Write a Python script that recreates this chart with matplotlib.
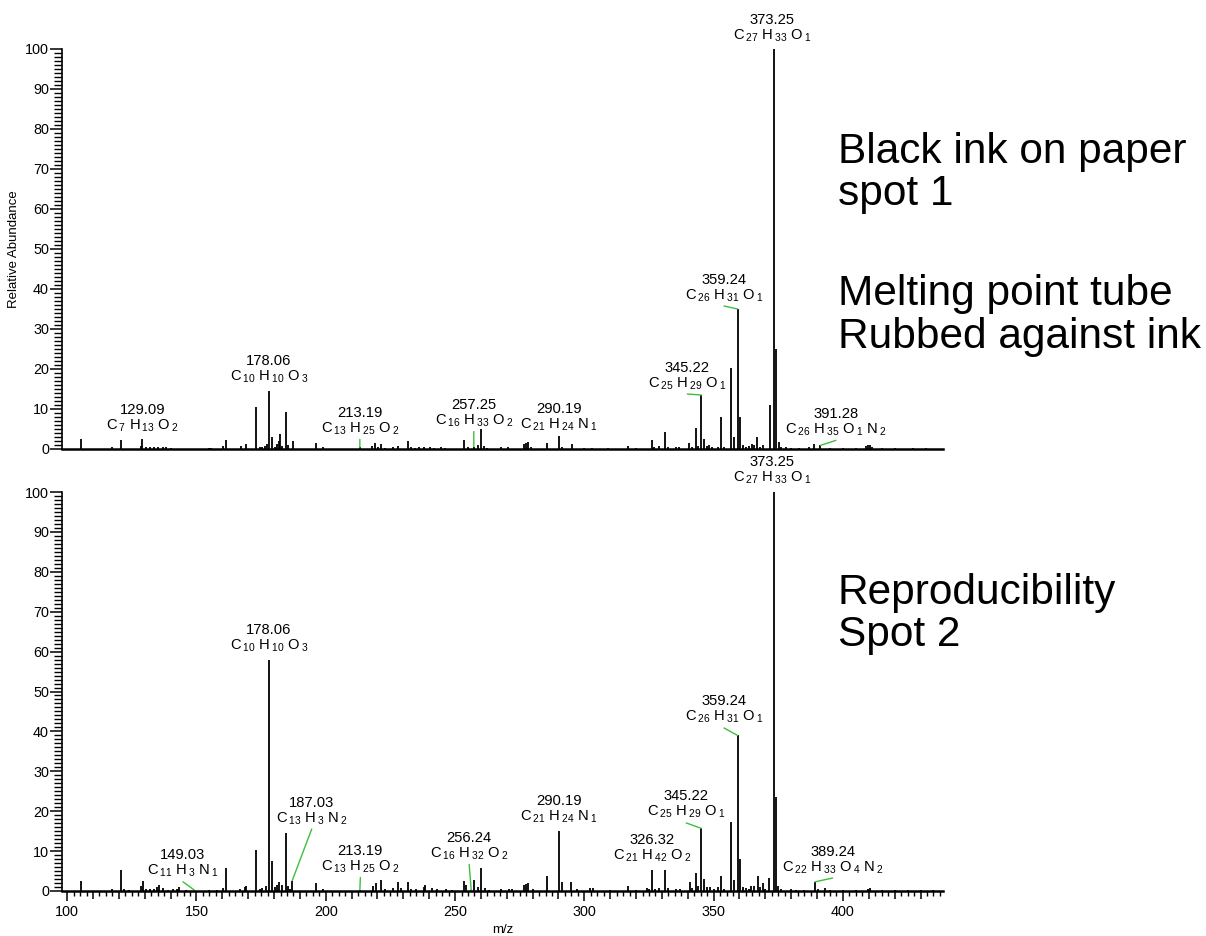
import matplotlib
matplotlib.use("Agg")
import matplotlib.pyplot as plt
from matplotlib.ticker import MultipleLocator, FuncFormatter

plt.rcParams['font.family'] = ['Liberation Sans', 'DejaVu Sans']
plt.rcParams['mathtext.fontset'] = 'custom'
plt.rcParams['mathtext.rm'] = 'Liberation Sans'
plt.rcParams['mathtext.it'] = 'Liberation Sans'
plt.rcParams['mathtext.bf'] = 'Liberation Sans'
plt.rcParams['mathtext.default'] = 'regular'

# spectrum 1: black ink on paper, spot 1
top_mz = [105.2, 117.2, 121.0, 128.5, 129.09, 130.5, 132.0, 133.5, 135.1, 137.0, 138.2, 140.0,
          155.0, 155.6, 160.3, 161.6, 167.4, 169.3, 173.2, 174.6, 175.5, 176.5, 177.2, 178.06,
          179.1, 180.3, 181.0, 181.8, 182.3, 183.1, 184.5, 185.3, 187.3, 196.1, 199.0, 213.19,
          218.0, 219.2, 220.3, 221.2, 223.0, 226.0, 228.1, 231.9, 233.0, 234.5, 236.0, 238.0,
          240.5, 242.0, 244.5, 246.0, 253.3, 255.0, 257.25, 259.0, 260.1, 261.3, 262.5, 267.8,
          270.5, 276.6, 277.4, 278.3, 279.5, 285.4, 290.19, 291.3, 295.1, 300.0, 303.0, 309.0,
          316.8, 320.0, 326.1, 327.0, 328.7, 331.1, 332.2, 335.6, 336.5, 340.6, 341.6, 343.1,
          344.1, 345.22, 346.1, 347.3, 348.4, 349.3, 351.5, 352.9, 354.0, 356.7, 357.7, 359.24,
          360.2, 361.3, 362.5, 363.5, 364.7, 365.5, 366.9, 368.0, 369.0, 371.7, 373.25, 374.25,
          375.1, 376.1, 378.0, 380.0, 383.0, 387.0, 389.0, 391.28, 395.0, 400.0, 405.0, 408.8,
          409.6, 410.4, 411.1, 415.0, 420.0, 427.0, 432.0]
top_ab = [2.5, 0.5, 2.3, 0.8, 2.5, 0.4, 0.4, 0.6, 0.4, 0.5, 0.4, 0.3,
          0.3, 0.3, 0.8, 2.3, 0.8, 1.2, 10.6, 0.5, 0.6, 0.8, 1.3, 14.6,
          3.0, 0.5, 1.2, 2.0, 3.7, 0.8, 9.3, 1.0, 2.0, 1.5, 0.4, 0.4,
          0.8, 1.6, 0.6, 1.2, 0.3, 0.5, 0.8, 1.9, 0.4, 0.3, 0.4, 0.5,
          0.5, 0.3, 0.5, 0.3, 2.2, 0.4, 0.6, 1.0, 5.0, 0.8, 0.3, 0.5,
          0.4, 1.3, 1.6, 1.8, 0.4, 1.5, 3.3, 0.6, 1.3, 0.3, 0.3, 0.3,
          0.8, 0.3, 2.2, 0.6, 0.8, 4.2, 0.6, 0.6, 0.4, 1.4, 0.5, 5.3,
          0.8, 13.5, 2.5, 0.8, 0.9, 0.6, 0.5, 8.0, 0.6, 20.3, 2.9, 35.0,
          7.9, 1.0, 0.6, 0.8, 1.2, 0.9, 3.1, 0.6, 0.9, 10.9, 100.0, 24.9,
          1.8, 0.5, 0.4, 0.3, 0.3, 0.5, 1.2, 0.9, 0.3, 0.3, 0.3, 0.8,
          1.0, 0.9, 0.6, 0.3, 0.3, 0.3, 0.3]

# spectrum 2: reproducibility, spot 2
bot_mz = [105.2, 117.2, 121.0, 122.0, 124.0, 128.5, 129.4, 130.5, 132.0, 133.5, 134.6, 135.4,
          137.0, 139.0, 140.8, 142.5, 143.3, 146.0, 149.03, 155.0, 158.0, 160.3, 161.6, 167.0,
          168.6, 169.3, 173.2, 174.5, 175.5, 176.9, 178.06, 179.1, 180.5, 181.3, 182.0, 182.9,
          184.5, 185.3, 186.3, 187.03, 196.1, 199.0, 213.19, 218.2, 219.3, 221.2, 223.0, 226.0,
          228.1, 229.0, 231.8, 233.0, 235.0, 237.8, 238.4, 241.0, 243.0, 246.4, 249.0, 253.3,
          254.2, 256.24, 257.3, 259.0, 260.0, 261.5, 263.0, 267.8, 271.0, 272.0, 276.8, 277.6,
          278.4, 280.0, 285.4, 290.19, 291.4, 295.0, 297.0, 302.3, 303.2, 310.0, 316.9, 320.0,
          324.3, 325.0, 326.32, 327.3, 328.9, 331.1, 332.2, 335.4, 337.0, 340.7, 341.7, 343.1,
          344.1, 345.22, 346.2, 347.5, 348.5, 350.0, 351.8, 352.8, 354.0, 356.7, 357.7, 359.24,
          360.2, 361.5, 362.5, 363.5, 364.5, 365.5, 367.0, 368.0, 369.0, 370.0, 371.6, 373.25,
          374.25, 375.0, 376.0, 379.9, 382.0, 385.0, 389.24, 390.5, 392.9, 395.0, 400.0, 405.0,
          409.6, 410.4, 415.0, 420.0, 425.0, 430.0, 435.0]
bot_ab = [2.6, 0.5, 5.3, 0.4, 0.3, 1.2, 2.6, 0.5, 0.4, 0.6, 1.0, 1.5,
          0.8, 0.3, 0.5, 0.5, 1.0, 0.3, 0.3, 0.3, 0.3, 0.8, 5.7, 0.4,
          1.0, 1.3, 10.4, 0.6, 0.8, 1.3, 58.0, 7.5, 1.0, 1.5, 2.3, 1.5,
          14.6, 1.2, 0.4, 2.6, 1.9, 0.5, 0.3, 1.3, 2.1, 2.75, 0.5, 0.8,
          2.2, 0.8, 2.2, 0.5, 0.4, 1.0, 1.6, 0.8, 0.4, 0.5, 0.3, 2.5,
          1.5, 0.3, 2.75, 1.0, 5.7, 0.8, 0.3, 0.5, 0.6, 0.6, 1.4, 1.8,
          1.9, 0.4, 3.7, 15.0, 2.3, 2.3, 0.4, 0.7, 0.7, 0.3, 1.3, 0.3,
          0.8, 0.5, 5.2, 0.6, 0.8, 5.2, 0.8, 0.5, 0.4, 2.3, 0.8, 4.6,
          1.2, 15.7, 3.1, 1.0, 1.0, 0.5, 1.0, 3.8, 0.6, 17.3, 2.7, 39.0,
          8.1, 1.0, 0.8, 0.6, 1.2, 1.2, 3.8, 1.0, 2.0, 0.6, 3.2, 100.0,
          23.6, 1.3, 0.5, 0.5, 0.3, 0.3, 2.3, 0.4, 0.8, 0.3, 0.3, 0.3,
          0.5, 0.8, 0.3, 0.3, 0.3, 0.3, 0.3]

# labelled peaks: m/z and elemental formula as (element, count) pairs
top_lab_mz = [129.09, 178.06, 213.19, 257.25, 290.19, 345.22, 359.24, 373.25, 391.28]
top_lab_formula = [[("C", 7), ("H", 13), ("O", 2)], [("C", 10), ("H", 10), ("O", 3)],
                   [("C", 13), ("H", 25), ("O", 2)], [("C", 16), ("H", 33), ("O", 2)],
                   [("C", 21), ("H", 24), ("N", 1)], [("C", 25), ("H", 29), ("O", 1)],
                   [("C", 26), ("H", 31), ("O", 1)], [("C", 27), ("H", 33), ("O", 1)],
                   [("C", 26), ("H", 35), ("O", 1), ("N", 2)]]
bot_lab_mz = [149.03, 178.06, 187.03, 213.19, 256.24, 290.19, 326.32, 345.22, 359.24, 373.25, 389.24]
bot_lab_formula = [[("C", 11), ("H", 3), ("N", 1)], [("C", 10), ("H", 10), ("O", 3)],
                   [("C", 13), ("H", 3), ("N", 2)], [("C", 13), ("H", 25), ("O", 2)],
                   [("C", 16), ("H", 32), ("O", 2)], [("C", 21), ("H", 24), ("N", 1)],
                   [("C", 21), ("H", 42), ("O", 2)], [("C", 25), ("H", 29), ("O", 1)],
                   [("C", 26), ("H", 31), ("O", 1)], [("C", 27), ("H", 33), ("O", 1)],
                   [("C", 22), ("H", 33), ("O", 4), ("N", 2)]]

# label offsets from the peak top, in pixels (dx right, dy up), and whether a leader line is drawn
top_lab_off = [(0, 20.5), (0, 21), (0, 26), (0, 33), (0, 18), (-14, 19), (-13.5, 21), (-2, 21), (15.5, 23)]
top_lab_lead = [False, False, True, True, False, True, True, False, True]
bot_lab_off = [(-11, 26), (0, 20.6), (19.5, 69.6), (0.5, 30.3), (-2, 43.3), (0, 21.6), (0, 21.3),
               (-15, 23.4), (-13.5, 25.4), (-2, 21), (17.5, 21.8)]
bot_lab_lead = [True, False, True, True, True, False, False, True, True, False, True]

PX = 72.0 / 100  # pixel -> point
green = "#3dbf3d"


def fmt_formula(parts):
    return " ".join(r"%s$\,{}_{%d}$" % (el, n) for el, n in parts)


def draw_panel(ax, mz, ab, lab_mz, lab_formula, lab_off, lab_lead, show_x):
    ax.vlines(mz, 0, ab, color="black", lw=1.3)
    ax.set_xlim(98, 438.7)
    ax.set_ylim(0, 100)
    for s in ["top", "right"]:
        ax.spines[s].set_visible(False)
    ax.spines["bottom"].set_linewidth(1.8)
    ax.spines["left"].set_linewidth(1.2)
    ax.yaxis.set_major_locator(MultipleLocator(10))
    ax.yaxis.set_minor_locator(MultipleLocator(1))
    ax.tick_params(axis="y", which="major", direction="out", length=8.6, width=1.1, labelsize=10.4, pad=0.8)
    ax.tick_params(axis="y", which="minor", direction="out", length=5.8, width=1.0)
    if show_x:
        ax.xaxis.set_major_locator(MultipleLocator(10))
        ax.xaxis.set_major_formatter(FuncFormatter(lambda v, p: "%d" % v if v % 50 == 0 else ""))
        ax.xaxis.set_minor_locator(MultipleLocator(2.5))
        ax.tick_params(axis="x", which="major", direction="out", length=5.5, width=1.1, labelsize=10.4, pad=4.5)
        ax.tick_params(axis="x", which="minor", direction="out", length=3.6, width=1.0)
    else:
        ax.set_xticks([])
    inten = dict(zip(mz, ab))
    for m, f, (dx, dy), lead in zip(lab_mz, lab_formula, lab_off, lab_lead):
        y = inten[m]
        ax.annotate("%.2f\n%s" % (m, fmt_formula(f)), xy=(m, y), xytext=(dx * PX, dy * PX),
                    textcoords="offset points", ha="center", va="center",
                    fontsize=10.6, linespacing=1.05, annotation_clip=False)
        if lead:
            ax.annotate("", xy=(m, y), xytext=(dx * PX, (dy - 18) * PX), textcoords="offset points",
                        annotation_clip=False,
                        arrowprops=dict(arrowstyle="-", color=green, lw=1.0, shrinkA=0, shrinkB=0))


fig = plt.figure(figsize=(12.06, 9.36), dpi=100)
ax1 = fig.add_axes([62 / 1206, 487 / 936, 881 / 1206, 400 / 936])
ax2 = fig.add_axes([62 / 1206, 45 / 936, 881 / 1206, 399 / 936])

draw_panel(ax1, top_mz, top_ab, top_lab_mz, top_lab_formula, top_lab_off, top_lab_lead, False)
draw_panel(ax2, bot_mz, bot_ab, bot_lab_mz, bot_lab_formula, bot_lab_off, bot_lab_lead, True)

ax1.set_ylabel("Relative Abundance", fontsize=9.5, labelpad=4)
fig.text(503 / 1206, 1 - 930 / 936, "m/z", ha="center", va="center", fontsize=9.5)

note_lines = [("Black ink on paper", 163), ("spot 1", 205), ("Melting point tube", 305),
              ("Rubbed against ink", 348), ("Reproducibility", 604), ("Spot 2", 646)]
for txt, base in note_lines:
    fig.text(838 / 1206, 1 - base / 936, txt, ha="left", va="baseline", fontsize=30.5)

# labelled x ticks (every 50) are longer than the 10-step ticks
fig.canvas.draw()
for t in ax2.xaxis.get_major_ticks():
    if t.get_loc() % 50 == 0:
        t.tick1line.set_markersize(7.5)

fig.savefig("out.png", dpi=100)
